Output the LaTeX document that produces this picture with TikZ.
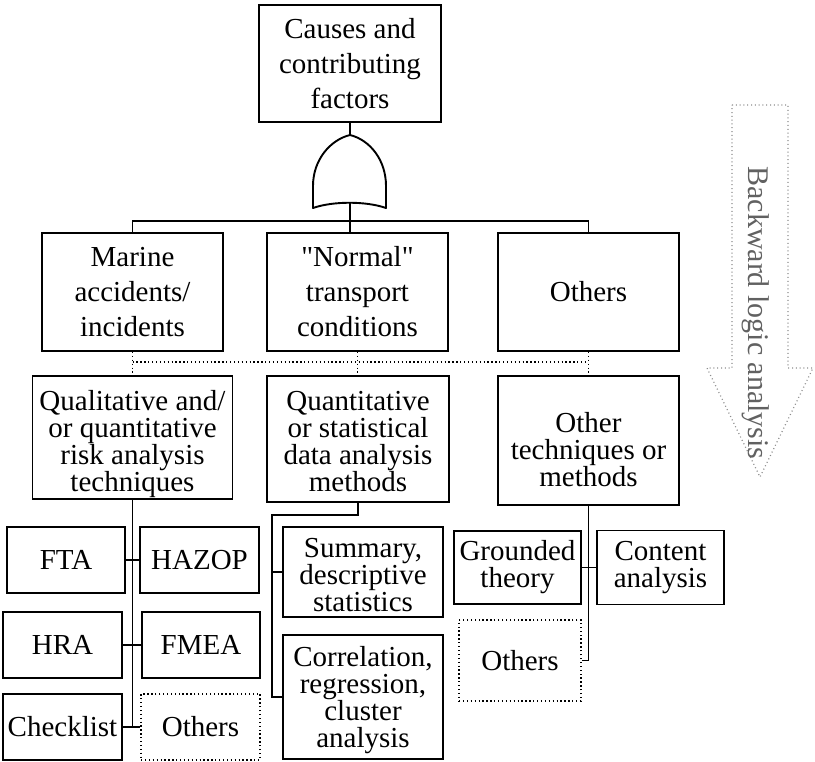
\documentclass[tikz,border=0pt]{standalone}
\usepackage{fontspec}
\setmainfont{Liberation Serif}
\begin{document}
\begin{tikzpicture}[x=1pt,y=-1pt,
  box/.style={draw, line width=1.9pt, inner sep=0pt, align=center, font=\fontsize{29}{27}\selectfont},
  bigbox/.style={box, font=\fontsize{29}{35}\selectfont},
  txt/.style={inner sep=0pt, align=center, font=\fontsize{29}{27}\selectfont},
  dotbox/.style={box, line width=1.4pt, dash pattern=on 1.3pt off 2.6pt},
  conn/.style={line width=1.9pt},
  dots/.style={line width=1.4pt, dash pattern=on 1.3pt off 2.6pt},
  arrowline/.style={draw=black!45, line width=1.2pt, dash pattern=on 1pt off 2.8pt}
]
\useasboundingbox (0,0) rectangle (815,762);

% level 0
\node[bigbox, minimum width=182pt, minimum height=117pt] (top) at (350,63.5) {Causes and\\contributing\\factors};

% OR gate
\coordinate (gtop) at (350,135);
\coordinate (gbot) at (350,203);
\coordinate (bar) at (350,221);
\draw[line width=1.9pt, line join=round] (313,208) -- (313,186) .. controls (313,160) and (330,140) .. (gtop)
  .. controls (370,140) and (386,160) .. (386,186) -- (386,208)
  .. controls (366,201) and (333,201) .. (313,208) -- cycle;
\draw[conn] (top.south) -- (gtop);

% level 1
\node[bigbox, minimum width=181pt, minimum height=118pt] (marine) at (132.5,292) {Marine\\accidents/\\incidents};
\node[bigbox, minimum width=181pt, minimum height=118pt] (normal) at (357.5,292) {\textquotedbl Normal\textquotedbl\\transport\\conditions};
\node[bigbox, minimum width=181pt, minimum height=118pt] (others1) at (588.5,292) {Others};

\draw[conn] (gbot) -- (gbot |- marine.north);
\draw[conn] (marine.north) -- (marine.north |- bar) -- (others1.north |- bar) -- (others1.north);

% level 2
\node[box, minimum width=200pt, minimum height=123pt] (qual) at (132.5,437.5) {};
\node[txt] (qualtxt) at (132.5,444) {Qualitative and/\\or quantitative\\risk analysis\\techniques};
\node[box, minimum width=182pt, minimum height=126pt] (quant) at (358,439) {};
\node[txt] (quanttxt) at (358,442) {Quantitative\\or statistical\\data analysis\\methods};
\node[box, minimum width=181pt, minimum height=129pt] (othtech) at (588.5,440.5) {};
\node[txt] (othtechtxt) at (588.5,450) {Other\\techniques or\\methods};

\coordinate (dl) at (0,362);
\draw[dots] (marine.south) -- (marine.south |- qual.north);
\draw[dots] (normal.south) -- (normal.south |- quant.north);
\draw[dots] (others1.south) -- (others1.south |- othtech.north);
\draw[dots] (marine.south |- dl) -- (others1.south |- dl);

% left group
\node[box, minimum width=118pt, minimum height=66pt] (fta) at (66,560) {FTA};
\node[box, minimum width=119pt, minimum height=66pt] (hazop) at (199.5,560) {HAZOP};
\node[box, minimum width=119pt, minimum height=66pt] (hra) at (62.5,645) {HRA};
\node[box, minimum width=118pt, minimum height=66pt] (fmea) at (201,645) {FMEA};
\node[box, minimum width=119pt, minimum height=66pt] (check) at (62.5,727) {Checklist};
\node[dotbox, minimum width=119pt, minimum height=66pt] (oth2) at (200.5,727) {Others};

\draw[conn] (qual.south) -- (qual.south |- oth2.west);
\draw[conn] (check.east) -- (oth2.west);
\draw[conn] (fta.east) -- (hazop.west);
\draw[conn] (hra.east) -- (fmea.west);

% middle group
\node[box, minimum width=160pt, minimum height=90pt] (summ) at (363,572) {};
\node[txt] (summtxt) at (363,575) {Summary,\\descriptive\\statistics};
\node[box, minimum width=160pt, minimum height=124pt] (corr) at (363,697) {};
\node[txt] (corrtxt) at (363,700) {Correlation,\\regression,\\cluster\\analysis};
\coordinate (qm) at (272,515);
\draw[conn] (quant.south) -- (quant.south |- qm) -- (qm) |- (corr.west);
\draw[conn] (summ.west) -- (summ.west -| qm);

% right group
\node[box, minimum width=127pt, minimum height=73pt] (ground) at (517.5,567.5) {Grounded\\theory};
\node[box, minimum width=127pt, minimum height=74pt] (content) at (660.5,567.5) {Content\\analysis};
\node[dotbox, minimum width=122pt, minimum height=81pt] (oth3) at (520,660.5) {Others};
\draw[conn] (othtech.south) |- (oth3.east);
\draw[conn] (ground.east) -- (content.west);

% backward arrow
\draw[arrowline] (732,105) -- (788,105) -- (788,368) -- (813,368) -- (760,477) -- (707,368) -- (732,368) -- cycle;
\node[rotate=-90, text=black!62, inner sep=0pt, font=\fontsize{30}{30}\selectfont] (back) at (756,313) {Backward logic analysis};
\end{tikzpicture}
\end{document}
